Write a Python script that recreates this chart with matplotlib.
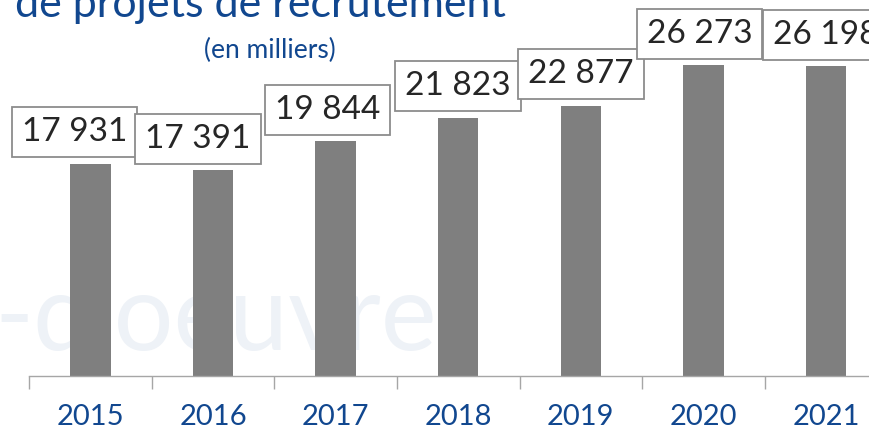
import matplotlib
matplotlib.use("Agg")
import matplotlib.pyplot as plt

# Projets de recrutement (en milliers)
years = ["2015", "2016", "2017", "2018", "2019", "2020", "2021"]
projets = [17931, 17391, 19844, 21823, 22877, 26273, 26198]
labels = ["17 931", "17 391", "19 844", "21 823", "22 877", "26 273", "26 198"]

BLUE = "#11478F"
GREY_BAR = "#7F7F7F"
# labels of the first bars are nudged left so the boxes don't overlap (px)
label_dx = [-16, -15, -8, 0, 0, -4, 0]

plt.rcParams["font.family"] = ["Lato", "DejaVu Sans"]

fig = plt.figure(figsize=(8.69, 4.32), dpi=100)
ax = fig.add_axes([29 / 869, 56 / 432, 1 - 29 / 869, 0.8209])
ax.set_zorder(2)
ax.set_facecolor("none")

# faint watermark behind the bars
fig.text(-0.006, 0.19, "-d'oeuvre", fontsize=76, fontweight="normal",
         color="#EEF2F7", ha="left", va="baseline", zorder=0)

x = range(len(years))
ax.bar(x, projets, width=0.33, color=GREY_BAR, zorder=2)

for i, (v, lab) in enumerate(zip(projets, labels)):
    ax.annotate(lab, xy=(i, v), xytext=(label_dx[i] * 0.72, 12),
                textcoords="offset points", ha="center", va="bottom",
                fontsize=24, color="#262626", annotation_clip=False,
                bbox=dict(boxstyle="square,pad=0.3", fc="white",
                          ec="#8C8C8C", lw=1.3))

ax.set_xticks(list(x))
ax.set_xticklabels(years, color=BLUE, fontsize=21)
ax.set_xticks([i - 0.5 for i in range(len(years) + 1)], minor=True)
ax.tick_params(axis="x", which="major", length=0, pad=20)
ax.tick_params(axis="x", which="minor", length=9, width=1, color="#A6A6A6")
ax.set_yticks([])
ax.set_xlim(-0.5, 6.35)
ax.set_ylim(0, 30000)
for side in ["left", "right", "top"]:
    ax.spines[side].set_visible(False)
ax.spines["bottom"].set_color("#A6A6A6")
ax.spines["bottom"].set_linewidth(1)

# title is cut at the top of the picture
fig.text(15 / 869, 1 - 17 / 432, "de projets de recrutement", fontsize=31,
         color=BLUE, ha="left", va="baseline")
fig.text(270 / 869, 1 - 58 / 432, "(en milliers)", fontsize=19,
         color=BLUE, ha="center", va="baseline")

fig.savefig("out.png", dpi=100)
